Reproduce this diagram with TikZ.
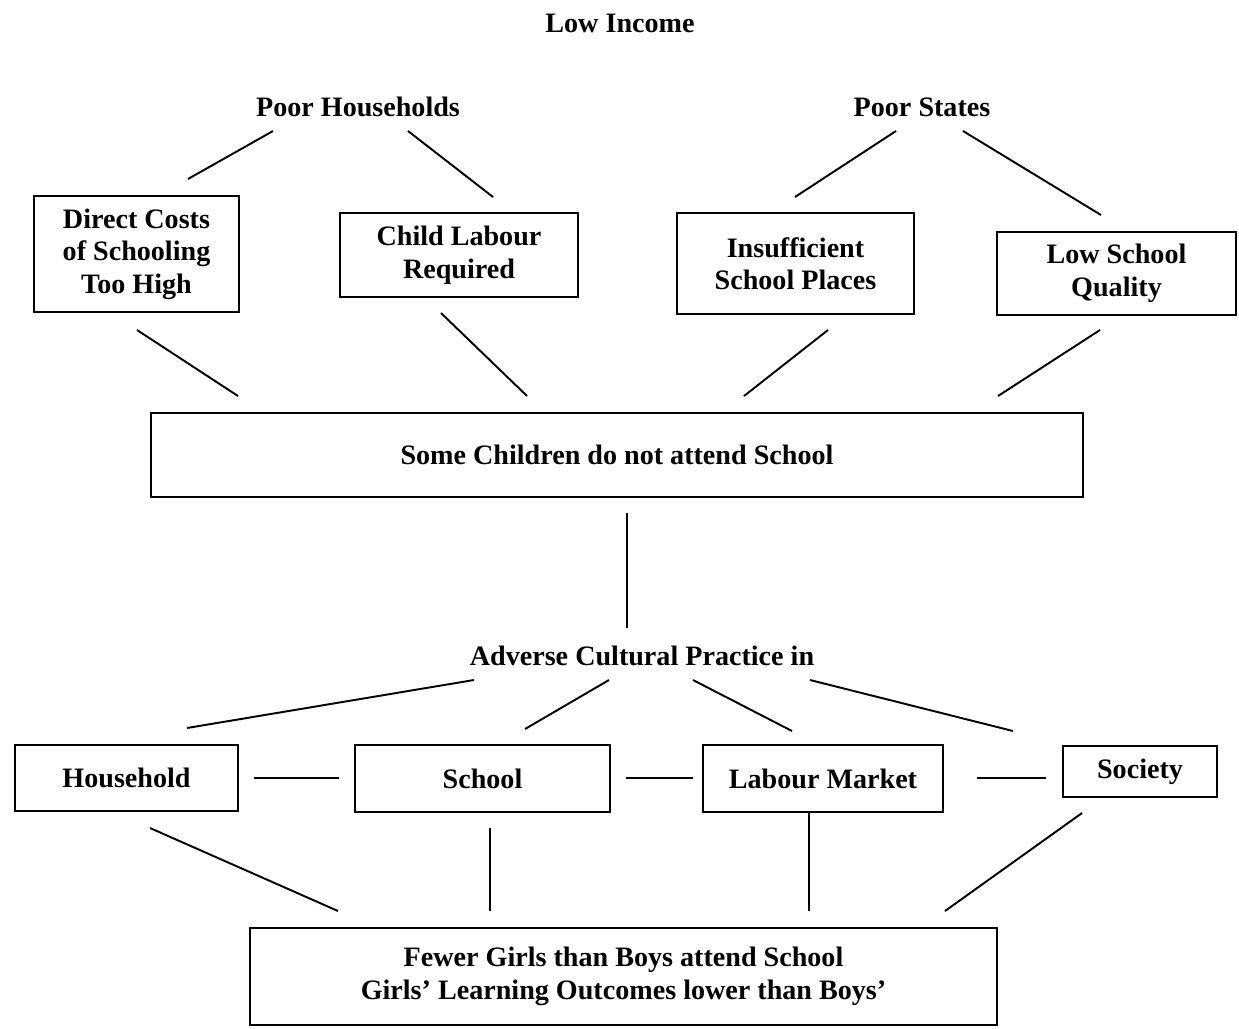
\documentclass[tikz,border=0pt]{standalone}
\usepackage{fontspec}
\setmainfont{Liberation Serif}

\tikzstyle{label}=[font=\bfseries, align=center]
\tikzstyle{box}=[draw, line width=1.1pt, font=\bfseries, align=center, inner sep=0pt]
\tikzstyle{link}=[line width=1.1pt]

\begin{document}
\fontsize{16}{18.5}\selectfont
\begin{tikzpicture}[x=0.02cm, y=-0.02cm]
      \useasboundingbox (0, 0) rectangle (1239, 1028);

      \node[label] (low) at (620, 23) {Low Income};
      \node[label] (ph) at (358, 107) {Poor Households};
      \node[label] (ps) at (922, 107) {Poor States};

      \node[box, minimum width=4.1cm, minimum height=2.32cm] (dc) at (136.5, 254) {Direct Costs\\of Schooling\\Too High};
      \node[box, minimum width=4.76cm, minimum height=1.68cm] (cl) at (459, 255) {Child Labour\\Required};
      \node[box, minimum width=4.74cm, minimum height=2.02cm] (is) at (795.5, 263.5) {Insufficient\\School Places};
      \node[box, minimum width=4.78cm, minimum height=1.66cm] (lq) at (1116.5, 273.5) {Low School\\Quality};

      \node[box, minimum width=18.64cm, minimum height=1.68cm] (some) at (617, 455) {Some Children do not attend School};

      \node[label] (adv) at (642, 656) {Adverse Cultural Practice in};

      \node[box, minimum width=4.46cm, minimum height=1.32cm] (hh) at (126.5, 778) {Household};
      \node[box, minimum width=5.1cm, minimum height=1.34cm] (sch) at (482.5, 778.5) {School};
      \node[box, minimum width=4.8cm, minimum height=1.34cm] (lm) at (823, 778.5) {Labour Market};
      \node[box, minimum width=3.08cm, minimum height=1.02cm] (soc) at (1140, 771.5) {Society};

      \node[box, minimum width=14.94cm, minimum height=1.94cm] (few) at (623.5, 976.5) {Fewer Girls than Boys attend School\\Girls' Learning Outcomes lower than Boys'};

      % free ends of the links
      \coordinate (ph-dc) at (273, 131);  \coordinate (dc-ph) at (188, 179);
      \coordinate (ph-cl) at (408, 131);  \coordinate (cl-ph) at (493, 197);
      \coordinate (ps-is) at (896, 131);  \coordinate (is-ps) at (795, 197);
      \coordinate (ps-lq) at (963, 131);  \coordinate (lq-ps) at (1101, 215);
      \coordinate (dc-some) at (137, 330);  \coordinate (some-dc) at (238, 396);
      \coordinate (cl-some) at (441, 313);  \coordinate (some-cl) at (527, 396);
      \coordinate (is-some) at (828, 330);  \coordinate (some-is) at (744, 396);
      \coordinate (lq-some) at (1100, 330);  \coordinate (some-lq) at (998, 396);
      \coordinate (some-adv) at (627, 513);  \coordinate (adv-some) at (627, 628);
      \coordinate (adv-hh) at (474, 680);  \coordinate (hh-adv) at (187, 728);
      \coordinate (adv-sch) at (609, 680);  \coordinate (sch-adv) at (525, 729);
      \coordinate (adv-lm) at (693, 680);  \coordinate (lm-adv) at (792, 731);
      \coordinate (adv-soc) at (810, 680);  \coordinate (soc-adv) at (1013, 731);
      \coordinate (hh-sch) at (254, 778);  \coordinate (sch-hh) at (339, 778);
      \coordinate (sch-lm) at (626, 778);  \coordinate (lm-sch) at (693, 778);
      \coordinate (lm-soc) at (977, 778);  \coordinate (soc-lm) at (1046, 778);
      \coordinate (hh-few) at (150, 828);  \coordinate (few-hh) at (338, 911);
      \coordinate (sch-few) at (490, 828);  \coordinate (few-sch) at (490, 911);
      \coordinate (few-lm) at (809, 911);
      \coordinate (soc-few) at (1082, 813);  \coordinate (few-soc) at (945, 911);

      \draw[link] (ph-dc) to (dc-ph);
      \draw[link] (ph-cl) to (cl-ph);
      \draw[link] (ps-is) to (is-ps);
      \draw[link] (ps-lq) to (lq-ps);
      \draw[link] (dc-some) to (some-dc);
      \draw[link] (cl-some) to (some-cl);
      \draw[link] (is-some) to (some-is);
      \draw[link] (lq-some) to (some-lq);
      \draw[link] (some-adv) to (adv-some);
      \draw[link] (adv-hh) to (hh-adv);
      \draw[link] (adv-sch) to (sch-adv);
      \draw[link] (adv-lm) to (lm-adv);
      \draw[link] (adv-soc) to (soc-adv);
      \draw[link] (hh-sch) to (sch-hh);
      \draw[link] (sch-lm) to (lm-sch);
      \draw[link] (lm-soc) to (soc-lm);
      \draw[link] (hh-few) to (few-hh);
      \draw[link] (sch-few) to (few-sch);
      \draw[link] (lm.south -| few-lm) to (few-lm);
      \draw[link] (soc-few) to (few-soc);
    \end{tikzpicture}
\end{document}
